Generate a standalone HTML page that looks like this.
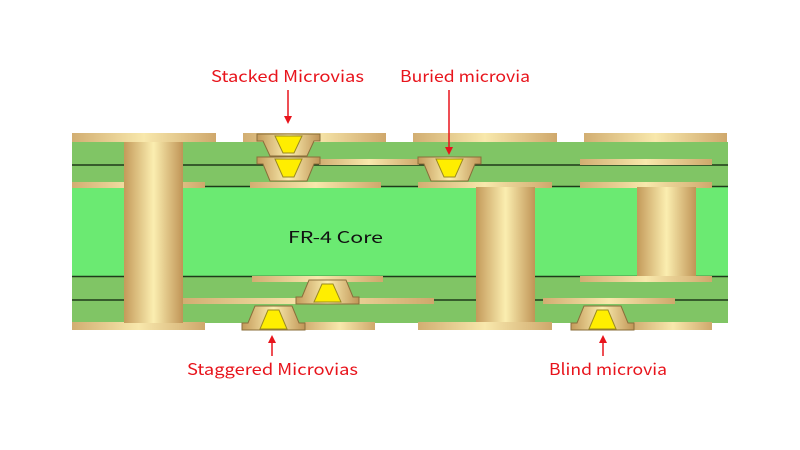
<!DOCTYPE html>
<html><head><meta charset="utf-8"><style>html,body{margin:0;padding:0;background:#fff}svg{display:block}</style></head><body>
<svg width="800" height="450" xmlns="http://www.w3.org/2000/svg">
<defs>
<linearGradient id="gh" x1="0" x2="1" y1="0" y2="0"><stop offset="0" stop-color="#c49a5a"/><stop offset="0.5" stop-color="#fbeeb0"/><stop offset="1" stop-color="#c09456"/></linearGradient>
<linearGradient id="gp" x1="0" x2="1" y1="0" y2="0"><stop offset="0" stop-color="#d2ae72"/><stop offset="0.5" stop-color="#f8e8ac"/><stop offset="1" stop-color="#cfa86c"/></linearGradient>
<marker id="ar" markerWidth="8" markerHeight="8" refX="4" refY="4" orient="auto" markerUnits="userSpaceOnUse"><path d="M0,0 L8,4 L0,8 Z" fill="#e8141c"/></marker>
</defs>
<rect x="72" y="142" width="656" height="181" fill="#80c565"/>
<rect x="72" y="187" width="656" height="89" fill="#6bea72"/>
<g stroke="#1f3a1a" stroke-width="1.5">
<line x1="72" y1="165" x2="728" y2="165"/>
<line x1="72" y1="186.5" x2="728" y2="186.5"/>
<line x1="72" y1="276.5" x2="728" y2="276.5"/>
<line x1="72" y1="300" x2="728" y2="300"/>
</g>
<g fill="url(#gp)">
<rect x="72" y="133" width="144" height="9"/><rect x="243" y="133" width="143" height="9"/><rect x="413" y="133" width="144" height="9"/><rect x="584" y="133" width="143" height="9"/>
<rect x="319" y="159" width="100" height="6"/><rect x="580" y="159" width="132" height="6"/>
<rect x="72" y="182" width="133" height="6"/><rect x="250" y="182" width="131" height="6"/><rect x="418" y="182" width="134" height="6"/><rect x="580" y="182" width="132" height="6"/>
<rect x="252" y="276" width="131" height="6"/><rect x="580" y="276" width="132" height="6"/>
<rect x="183" y="298" width="251" height="6"/><rect x="543" y="298" width="132" height="6"/>
<rect x="72" y="322" width="133" height="8"/><rect x="305" y="322" width="70" height="8"/><rect x="418" y="322" width="134" height="8"/><rect x="634" y="322" width="78" height="8"/>
</g>
<rect x="124" y="142" width="59" height="181" fill="url(#gh)"/>
<rect x="476" y="187" width="59" height="135" fill="url(#gh)"/>
<rect x="637" y="187" width="59" height="89" fill="url(#gh)"/>
<g stroke="#8a6e3a" stroke-width="1">
<g transform="translate(257,134)"><path d="M0,0H63V7H57L50,22H13L6,7H0Z" fill="url(#gh)"/><path d="M18,2H45L37,19H26Z" fill="#ffee00" stroke="#9a8a20"/></g>
<g transform="translate(257,157)"><path d="M0,0H63V7H57L50,24H13L6,7H0Z" fill="url(#gh)"/><path d="M18,2H45L37,20H26Z" fill="#ffee00" stroke="#9a8a20"/></g>
<g transform="translate(418,157)"><path d="M0,0H63V7H57L50,24H13L6,7H0Z" fill="url(#gh)"/><path d="M18,2H45L37,20H26Z" fill="#ffee00" stroke="#9a8a20"/></g>
<g transform="translate(296,280)"><path d="M0,24H63V17H57L50,0H13L6,17H0Z" fill="url(#gh)"/><path d="M18,22H45L37,4H26Z" fill="#ffee00" stroke="#9a8a20"/></g>
<g transform="translate(242,306)"><path d="M0,24H63V17H57L50,0H13L6,17H0Z" fill="url(#gh)"/><path d="M18,23H45L37,4H26Z" fill="#ffee00" stroke="#9a8a20"/></g>
<g transform="translate(571,306)"><path d="M0,24H63V17H57L50,0H13L6,17H0Z" fill="url(#gh)"/><path d="M18,23H45L37,4H26Z" fill="#ffee00" stroke="#9a8a20"/></g>
</g>
<g font-family="'Noto Sans CJK SC', 'Liberation Sans', sans-serif" font-size="16" fill="#e8141c">
<text x="211" y="82" textLength="153" lengthAdjust="spacingAndGlyphs">Stacked Microvias</text>
<text x="400" y="82" textLength="130" lengthAdjust="spacingAndGlyphs">Buried microvia</text>
<text x="187" y="375" textLength="171" lengthAdjust="spacingAndGlyphs">Staggered Microvias</text>
<text x="549" y="375" textLength="118" lengthAdjust="spacingAndGlyphs">Blind microvia</text>
</g>
<g stroke="#e8141c" stroke-width="1.5">
<line x1="288" y1="90" x2="288" y2="120" marker-end="url(#ar)"/>
<line x1="449" y1="90" x2="449" y2="151" marker-end="url(#ar)"/>
<line x1="272" y1="356" x2="272" y2="339" marker-end="url(#ar)"/>
<line x1="603" y1="356" x2="603" y2="339" marker-end="url(#ar)"/>
</g>
<text x="288" y="243" font-family="'Noto Sans CJK SC', 'Liberation Sans', sans-serif" font-size="16" fill="#111" textLength="95" lengthAdjust="spacingAndGlyphs">FR-4  Core</text>
</svg>
</body></html>
